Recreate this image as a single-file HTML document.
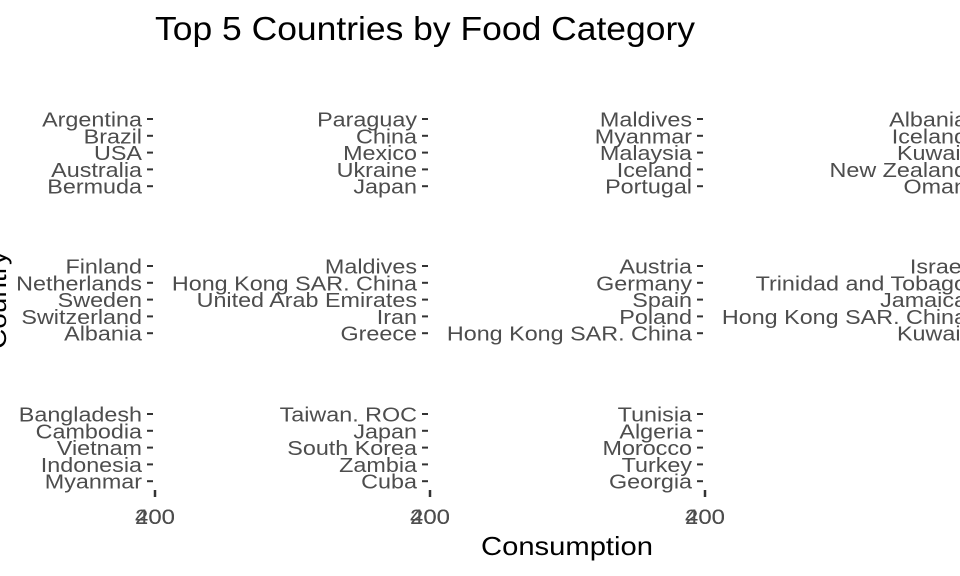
<!DOCTYPE html>
<html><head><meta charset="utf-8"><style>
html,body{margin:0;padding:0;background:#fff;overflow:hidden}
svg{display:block;font-family:"Liberation Sans",Arial,sans-serif}
</style></head><body>
<svg id="chart" width="960" height="576">
<text x="155" y="40" font-size="33" fill="#000" textLength="540" lengthAdjust="spacingAndGlyphs">Top 5 Countries by Food Category</text>
<text x="567" y="555" font-size="26" fill="#000" text-anchor="middle" textLength="172" lengthAdjust="spacingAndGlyphs">Consumption</text>
<text transform="translate(6,300) rotate(-90)" font-size="26" fill="#000" text-anchor="middle" textLength="98" lengthAdjust="spacingAndGlyphs">Country</text>
<g id="panels"></g>
</svg>
<script>
const facetCountries = [
  ["Argentina","Brazil","USA","Australia","Bermuda"],
  ["Paraguay","China","Mexico","Ukraine","Japan"],
  ["Maldives","Myanmar","Malaysia","Iceland","Portugal"],
  ["Albania","Iceland","Kuwait","New Zealand","Oman"],
  ["Finland","Netherlands","Sweden","Switzerland","Albania"],
  ["Maldives","Hong Kong SAR. China","United Arab Emirates","Iran","Greece"],
  ["Austria","Germany","Spain","Poland","Hong Kong SAR. China"],
  ["Israel","Trinidad and Tobago","Jamaica","Hong Kong SAR. China","Kuwait"],
  ["Bangladesh","Cambodia","Vietnam","Indonesia","Myanmar"],
  ["Taiwan. ROC","Japan","South Korea","Zambia","Cuba"],
  ["Tunisia","Algeria","Morocco","Turkey","Georgia"]
];
const xTickLabels = ["200","400"];
const ns = "http://www.w3.org/2000/svg";
const g = document.getElementById("panels");
const colX = [155, 430, 705, 980];
const rowTop = [119, 266, 414];
const step = 16.8;
const widen = 1.138;
function yPos(row, i){ return rowTop[row] + i*step; }
function stretch(t){
  const w = t.getComputedTextLength();
  t.setAttribute("textLength", (w*widen).toFixed(1));
  t.setAttribute("lengthAdjust", "spacingAndGlyphs");
}
facetCountries.forEach((list, p) => {
  const col = p % 4, row = Math.floor(p/4);
  const x0 = colX[col];
  list.forEach((c, i) => {
    const y = yPos(row, i);
    const t = document.createElementNS(ns, "text");
    
    
    t.setAttribute("x", x0 - 13);
    t.setAttribute("y", y + 7.5);
    t.setAttribute("text-anchor", "end");
    t.setAttribute("font-size", "20.5");
    t.setAttribute("fill", "#4d4d4d");
    t.textContent = c;
    g.appendChild(t);
    stretch(t);
    const tk = document.createElementNS(ns, "line");
    
    
    tk.setAttribute("x1", x0 - 8); tk.setAttribute("x2", x0 - 2);
    tk.setAttribute("y1", y); tk.setAttribute("y2", y);
    tk.setAttribute("stroke", "#333"); tk.setAttribute("stroke-width", "2");
    g.appendChild(tk);
  });
  if (row === 2) {
    const vt = document.createElementNS(ns, "line");
    
    
    vt.setAttribute("x1", x0); vt.setAttribute("x2", x0);
    vt.setAttribute("y1", 490); vt.setAttribute("y2", 497);
    vt.setAttribute("stroke", "#333"); vt.setAttribute("stroke-width", "2.5");
    g.appendChild(vt);
    xTickLabels.forEach(l => {
      const t = document.createElementNS(ns, "text");
      
      
      t.setAttribute("x", x0);
      t.setAttribute("y", 524);
      t.setAttribute("text-anchor", "middle");
      t.setAttribute("font-size", "21");
      t.setAttribute("fill", "#4d4d4d");
      t.textContent = l;
      g.appendChild(t);
      stretch(t);
    });
  }
});
</script>
</body></html>
